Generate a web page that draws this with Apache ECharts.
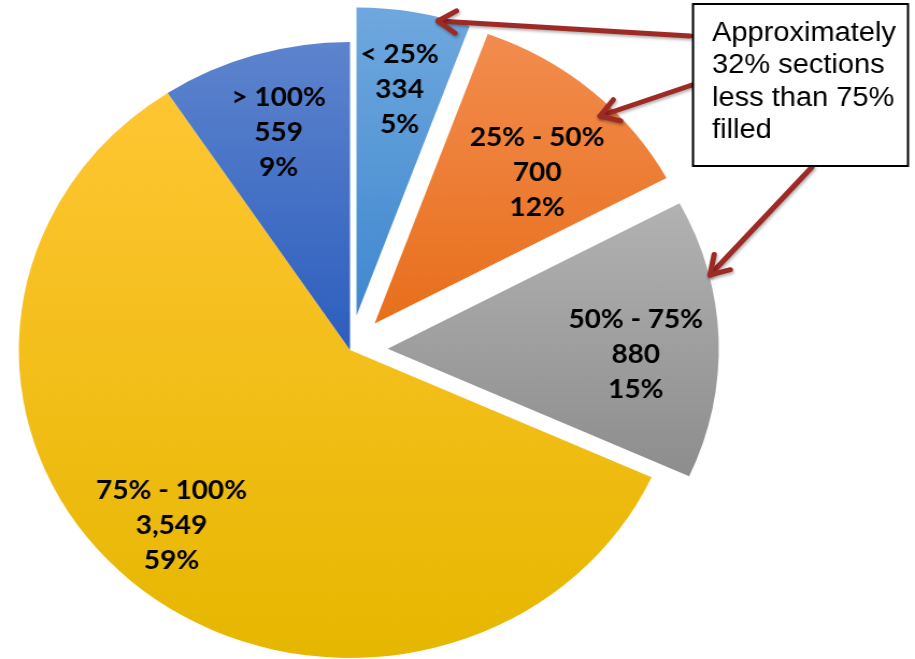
<!DOCTYPE html>
<html><head><meta charset="utf-8">
<script src="https://cdn.jsdelivr.net/npm/echarts@6/dist/echarts.min.js"></script>
<style>
html,body{margin:0;padding:0;background:#fff;overflow:hidden}
#wrap{width:915px;height:659px;position:relative;overflow:hidden;background:#fff}
#c{width:851px;height:659px;transform:scaleX(1.0752);transform-origin:0 0}
</style></head>
<body><div id="wrap"><div id="c"></div></div>
<script>
// ---- data ----
const categories = ['< 25%', '25% - 50%', '50% - 75%', '75% - 100%', '> 100%'];
const counts = [334, 700, 880, 3549, 559];
const exploded = [true, true, true, false, false];
const noteLines = ['Approximately', '32% sections', 'less than 75%', 'filled'];

// ---- styling ----
const S = 1.0752; // horizontal stretch of the whole picture
const topColors = ['#6fa8de', '#f28c4e', '#b2b2b2', '#ffc633', '#5d84cd'];
const botColors = ['#3f88cf', '#e86f1c', '#8d8d8d', '#e6b700', '#2d5ebe'];
const labelNudge = [[0, 2], [0, 24], [0, 13], [-16, 0], [0, 4]];
const cx = 350 / S, cy = 350, R = 308;

function grad(i) {
  return { type: 'linear', x: 0, y: 0, x2: 0, y2: 1,
    colorStops: [{ offset: 0, color: topColors[i] }, { offset: 1, color: botColors[i] }] };
}
const pieData = categories.map((n, i) => ({
  name: n, value: counts[i], selected: exploded[i],
  itemStyle: { color: grad(i) }, select: { itemStyle: { color: grad(i) } }
}));
const labelData = categories.map((n, i) => ({
  name: n, value: counts[i], selected: exploded[i],
  label: { offset: labelNudge[i] },
  select: { label: { offset: labelNudge[i] } }
}));

// arrows (screen coordinates -> chart coordinates)
const arrows = [
  [[690, 36], [438, 21]],
  [[692, 85], [600, 116]],
  [[812, 167], [710, 275]]
];
const red = '#9e2a26';
const graphics = [];
arrows.forEach(a => {
  const [t, h] = a;
  const dx = h[0] - t[0], dy = h[1] - t[1];
  const len = Math.hypot(dx, dy), ux = dx / len, uy = dy / len;
  const L = 21, ang = 32 * Math.PI / 180;
  const arm = s => {
    const c = Math.cos(s * ang), sn = Math.sin(s * ang);
    const rx = ux * c - uy * sn, ry = ux * sn + uy * c;
    return [(h[0] - L * rx) / S, h[1] - L * ry];
  };
  const common = { stroke: red, lineWidth: 5, lineCap: 'round', lineJoin: 'round', fill: null,
    shadowBlur: 3, shadowColor: 'rgba(0,0,0,0.3)', shadowOffsetX: 1, shadowOffsetY: 2 };
  graphics.push({ type: 'polyline', z: 100, shape: { points: [[t[0] / S, t[1]], [h[0] / S, h[1]]] }, style: common });
  graphics.push({ type: 'polyline', z: 100, shape: { points: [arm(1), [h[0] / S, h[1]], arm(-1)] }, style: common });
});
graphics.push({ type: 'rect', z: 101, shape: { x: 693 / S, y: 4, width: 215 / S, height: 162 },
  style: { fill: '#fff', stroke: '#000', lineWidth: 2 } });
graphics.push({ type: 'text', z: 102, x: 712 / S, y: 17,
  style: { text: noteLines.join('\n'), font: '27px "Liberation Sans", Arial, sans-serif',
    lineHeight: 32.5, fill: '#000', textVerticalAlign: 'top', textAlign: 'left' } });

const chart = echarts.init(document.getElementById('c'), null, { renderer: 'canvas' });
chart.setOption({
  animation: false,
  backgroundColor: '#fff',
  graphic: graphics,
  series: [
    {
      type: 'pie', center: [cx, cy], radius: [0, R], startAngle: 90, clockwise: true,
      selectedMode: 'multiple', selectedOffset: 35, percentPrecision: 0,
      label: { show: false }, labelLine: { show: false },
      emphasis: { disabled: true }, silent: true,
      itemStyle: { borderWidth: 0 },
      data: pieData, z: 1
    },
    {
      type: 'pie', center: [cx, cy], radius: [R * 0.48, R], startAngle: 90, clockwise: true,
      selectedMode: 'multiple', selectedOffset: 35, percentPrecision: 0,
      itemStyle: { color: 'rgba(0,0,0,0)', borderWidth: 0 },
      select: { itemStyle: { color: 'rgba(0,0,0,0)' } },
      emphasis: { disabled: true }, silent: true, labelLine: { show: false },
      label: {
        show: true, position: 'inside', color: '#000',
        fontFamily: 'Lato, "Noto Sans", sans-serif', fontWeight: 'bold', fontSize: 26,
        lineHeight: 35, align: 'center',
        formatter: p => p.name + '\n' + p.value.toLocaleString('en-US') + '\n' + p.percent + '%'
      },
      data: labelData, z: 2
    }
  ]
});
</script>
</body></html>
